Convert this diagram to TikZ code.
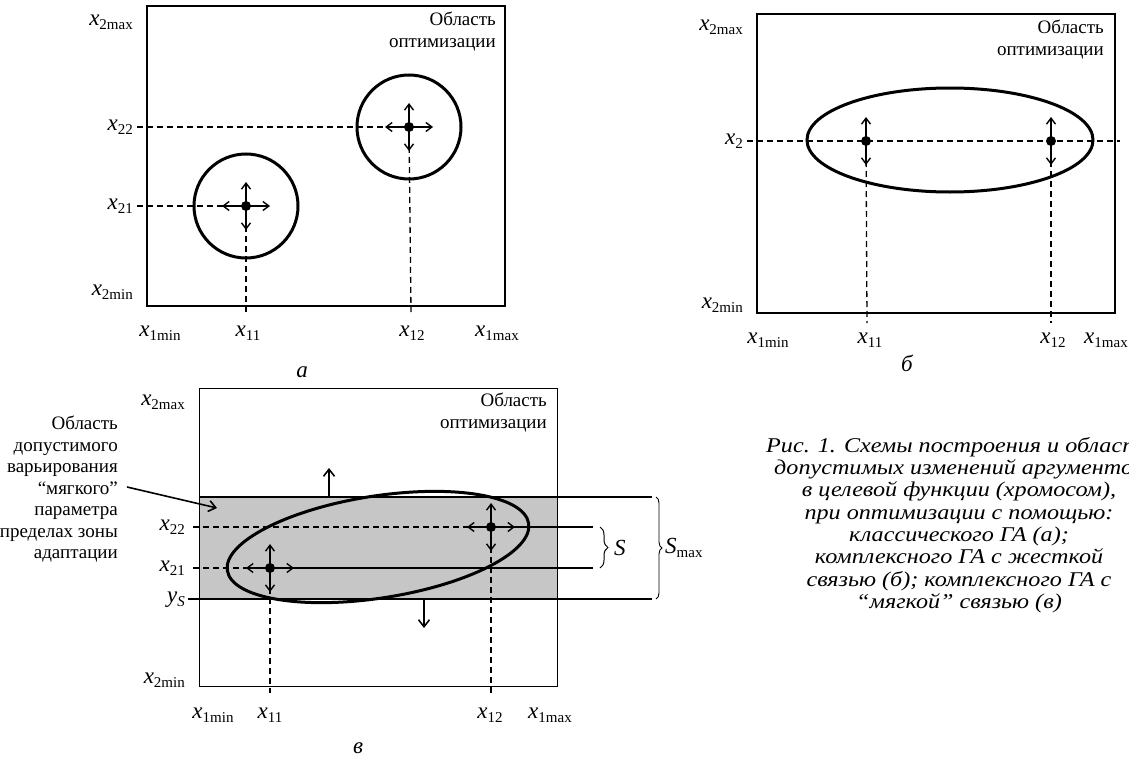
\documentclass[tikz,border=0pt]{standalone}
\usepackage{fontspec}
\setmainfont{Liberation Serif}
\newfontfamily\capfont[FakeStretch=1.15]{Liberation Serif}
\usetikzlibrary{arrows.meta,decorations.pathreplacing,calc,shapes.geometric}
\newcommand\xv[2][x]{{\fontsize{23}{23}\selectfont\itshape #1}{\fontsize{15}{15}\selectfont\raisebox{-4pt}{#2}}}
\begin{document}
\begin{tikzpicture}[x=1pt,y=-1pt,
  lbl/.style={inner sep=0pt},
  txt/.style={inner sep=0pt,font=\fontsize{19}{22}\selectfont,align=right},
  frame/.style={line width=2pt},
  thinframe/.style={line width=1pt},
  ring/.style={draw,line width=3pt,inner sep=0pt},
  dot/.style={circle,fill,inner sep=0pt,minimum size=10pt},
  dsh/.style={line width=1.3pt,dash pattern=on 6pt off 4pt},
  sarr/.style={line width=1.4pt,-{Straight Barb[length=6pt,width=9pt]}},
  barr/.style={line width=1.6pt,-{Straight Barb[length=7pt,width=11pt]}},
  captxt/.style={inner sep=0pt,font=\capfont\fontsize{21}{22.3}\selectfont\itshape,align=center}
]
\useasboundingbox (0,0) rectangle (1129,760);

% ---------------- panel a ----------------
\draw[frame] (147,6) rectangle (505,306);
\node[ring,circle,minimum size=104pt] (ca1) at (246,206) {};
\node[ring,circle,minimum size=104pt] (ca2) at (409,127) {};
\node[dot] (da1) at (246,206) {};
\node[dot] (da2) at (409,127) {};
\node[lbl,anchor=east] (a2max) at (133,22) {\xv{2max}};
\node[lbl,anchor=east] (a22) at (133,127) {\xv{22}};
\node[lbl,anchor=east] (a21) at (133,206) {\xv{21}};
\node[lbl,anchor=east] (a2min) at (133,292) {\xv{2min}};
\node[lbl] (a1min) at (160,333) {\xv{1min}};
\node[lbl] (a11) at (248,333) {\xv{11}};
\node[lbl] (a12) at (412,333) {\xv{12}};
\node[lbl] (a1max) at (497,333) {\xv{1max}};
\node[lbl,font=\fontsize{23}{23}\selectfont\itshape] (alab) at (302,372) {а};
\node[txt,anchor=north east] (aobl) at (496,12) {Область\\оптимизации};
\coordinate (a22s) at (137,127);
\coordinate (a21s) at (137,206);
\coordinate (a11e) at (246,312);
\coordinate (a12e) at (411,312);
\draw[dsh] (a22s) -- (da2.center);
\draw[dsh] (a21s) -- (da1.center);
\draw[dsh] (da1.center) -- (a11e);
\draw[dsh] (da2.center) -- (a12e);
\foreach \d in {da1,da2}{
  \draw[sarr] (\d.center) -- ++(24,0);
  \draw[sarr] (\d.center) -- ++(-24,0);
  \draw[sarr] (\d.center) -- ++(0,24);
  \draw[sarr] (\d.center) -- ++(0,-24);
}

% ---------------- panel b ----------------
\draw[frame] (757,14) rectangle (1115,313);
\node[ring,ellipse,minimum width=286pt,minimum height=104pt] (eb) at (950,140) {};
\node[dot] (db1) at (866,141) {};
\node[dot] (db2) at (1051,141) {};
\node[lbl,anchor=east] (b2max) at (743,27) {\xv{2max}};
\node[lbl,anchor=east] (b2) at (743,141) {\xv{2}};
\node[lbl,anchor=east] (b2min) at (743,305) {\xv{2min}};
\node[lbl] (b1min) at (768,340) {\xv{1min}};
\node[lbl] (b11) at (870,340) {\xv{11}};
\node[lbl] (b12) at (1053,340) {\xv{12}};
\node[lbl,anchor=west] (b1max) at (1084,340) {\xv{1max}};
\node[lbl,font=\fontsize{23}{23}\selectfont\itshape] (blab) at (907,363) {б};
\node[txt,anchor=north east] (bobl) at (1104,20) {Область\\оптимизации};
\coordinate (b2s) at (747,141);
\coordinate (b2e) at (1120,141);
\coordinate (b11e) at (867,323);
\coordinate (b12e) at (1051,323);
\draw[dsh] (b2s) -- (b2e);
\draw[dsh] (db1.center) -- (b11e);
\draw[dsh] (db2.center) -- (b12e);
\foreach \d in {db1,db2}{
  \draw[sarr] (\d.center) -- ++(0,24);
  \draw[sarr] (\d.center) -- ++(0,-24);
}

% ---------------- panel v ----------------
\fill[gray!45] (199,497) rectangle (557,599);
\draw[thinframe] (199,388) rectangle (557,686);
\coordinate (bandTL) at (199,497);
\coordinate (bandTR) at (652,497);
\coordinate (bandBL) at (188,599);
\coordinate (bandBR) at (652,599);
\draw[line width=1.2pt] (bandTL) -- (bandTR);
\draw[line width=1.2pt] (bandBL) -- (bandBR);
\node[ring,ellipse,minimum width=305pt,minimum height=102pt,rotate=8.9] (ev) at (378,547) {};
\node[dot] (dv1) at (270,568) {};
\node[dot] (dv2) at (491,527) {};
\node[lbl,anchor=east] (v2max) at (185,402) {\xv{2max}};
\node[lbl,anchor=east] (v22) at (185,527) {\xv{22}};
\node[lbl,anchor=east] (v21) at (185,568) {\xv{21}};
\node[lbl,anchor=east] (vyS) at (185,600) {\xv[y]{\itshape S}};
\node[lbl,anchor=east] (v2min) at (185,680) {\xv{2min}};
\node[lbl] (v1min) at (213,715) {\xv{1min}};
\node[lbl] (v11) at (270,715) {\xv{11}};
\node[lbl] (v12) at (490,715) {\xv{12}};
\node[lbl] (v1max) at (550,715) {\xv{1max}};
\node[lbl,font=\fontsize{23}{23}\selectfont\itshape] (vlab) at (358,748) {в};
\node[txt,anchor=north east] (vobl) at (547,393) {Область\\оптимизации};
\node[txt,anchor=north east,font=\fontsize{19}{21.5}\selectfont] (vnote) at (118,416)
  {Область\\допустимого\\варьирования\\“мягкого”\\параметра\\в пределах зоны\\адаптации};
\coordinate (v22s) at (193,527);
\coordinate (v21s) at (193,568);
\coordinate (v22e) at (593,527);
\coordinate (v21e) at (593,568);
\coordinate (v11e) at (270,693);
\coordinate (v12e) at (491,693);
\draw[dsh] (v22s) -- (dv2.center);
\draw[dsh] (v21s) -- (dv1.center);
\draw[line width=1.2pt] (dv2.center) -- (v22e);
\draw[line width=1.2pt] (dv1.center) -- (v21e);
\draw[dsh] (dv1.center) -- (v11e);
\draw[dsh] (dv2.center) -- (v12e);
\foreach \d in {dv1,dv2}{
  \draw[sarr] (\d.center) -- ++(24,0);
  \draw[sarr] (\d.center) -- ++(-24,0);
  \draw[sarr] (\d.center) -- ++(0,24);
  \draw[sarr] (\d.center) -- ++(0,-24);
}
\coordinate (upS) at (329,497);
\coordinate (upE) at (329,468);
\coordinate (dnS) at (424,599);
\coordinate (dnE) at (424,628);
\draw[barr] (upS) -- (upE);
\draw[barr] (dnS) -- (dnE);
\coordinate (noteA) at (127,487);
\coordinate (noteB) at (217,508);
\draw[barr] (noteA) -- (noteB);
% braces
\coordinate (sT) at (600,527);
\coordinate (sB) at (600,568);
\draw[line width=1pt,decorate,decoration={brace,amplitude=8pt}] (sT) -- (sB);
\node[lbl,anchor=west,font=\fontsize{23}{23}\selectfont\itshape] (slab) at (614,548) {S};
\coordinate (smT) at (656,497);
\coordinate (smB) at (656,599);
\draw[line width=0.9pt,decorate,decoration={brace,amplitude=6pt}] (smT) -- (smB);
\node[lbl,anchor=west] (smlab) at (665,548) {\xv[S]{max}};

% ---------------- caption ----------------
\node[captxt,anchor=north] (caption) at (959,437)
  {Рис. 1. Схемы построения и области\\
   допустимых изменений аргументов\\
   в целевой функции (хромосом),\\
   при оптимизации с помощью:\\
   классического ГА (а);\\
   комплексного ГА с жесткой\\
   связью (б); комплексного ГА с\\
   “мягкой” связью (в)};
\end{tikzpicture}
\end{document}
